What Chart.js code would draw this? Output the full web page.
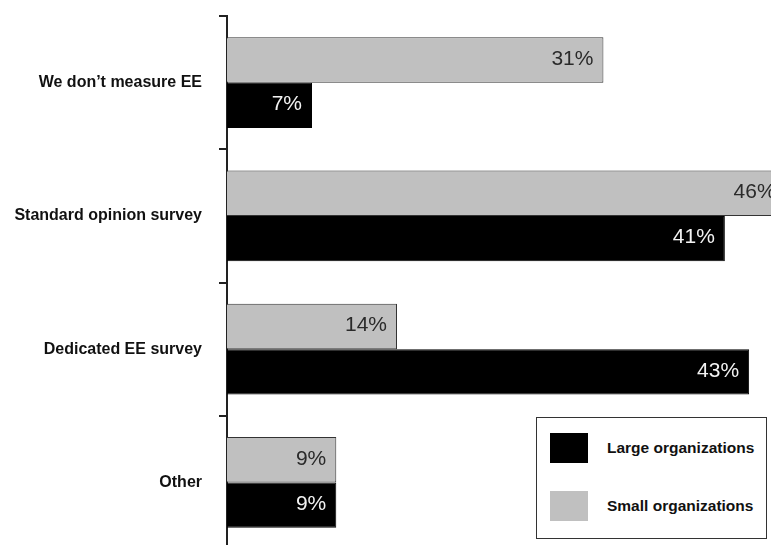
<!DOCTYPE html>
<html>
<head>
<meta charset="utf-8">
<title>Measuring EE</title>
<script src="https://cdn.jsdelivr.net/npm/chart.js@4/dist/chart.umd.min.js"></script>
<style>
  html, body { margin: 0; padding: 0; background: #fff; overflow: hidden; }
  #wrap { position: relative; width: 771px; height: 545px; overflow: hidden; }
  #chart { position: absolute; left: 0; top: 0; }
  #legend {
    position: absolute; left: 536px; top: 417px; width: 231px; height: 122px;
    box-sizing: border-box; border: 1.5px solid #333; background: #fff;
    font-family: "Liberation Sans", Arial, sans-serif; font-weight: bold;
    font-size: 15.5px; color: #111;
  }
  .item { position: absolute; left: 13px; height: 30px; display: flex; align-items: center; }
  .swatch { width: 38px; height: 30px; margin-right: 19px; }
</style>
</head>
<body>
<div id="wrap">
  <canvas id="chart" width="771" height="560"></canvas>
  <div id="legend"></div>
</div>
<script>
// survey answers, share of respondents in %
const categories = ["We don\u2019t measure EE", "Standard opinion survey", "Dedicated EE survey", "Other"];
const smallOrgs = [31, 46, 14, 9];
const largeOrgs = [7, 41, 43, 9];

const seriesNames = ["Small organizations", "Large organizations"];
const seriesColors = ["#c0c0c0", "#000000"];
const labelColors = ["#2a2a2a", "#f2f2f2"];

// writes "NN%" just inside the end of every bar
const barValueLabels = {
  id: "barValueLabels",
  afterDatasetsDraw(chart) {
    const ctx = chart.ctx;
    ctx.save();
    ctx.font = "21px 'Liberation Sans', Arial, sans-serif";
    ctx.textAlign = "right";
    ctx.textBaseline = "middle";
    chart.data.datasets.forEach((ds, i) => {
      const meta = chart.getDatasetMeta(i);
      meta.data.forEach((bar, j) => {
        ctx.fillStyle = labelColors[i];
        ctx.fillText(ds.data[j] + "%", bar.x - 10, bar.y - 1);
      });
    });
    ctx.restore();
  }
};

const chart = new Chart(document.getElementById("chart"), {
  type: "bar",
  data: {
    labels: categories,
    datasets: [
      {
        label: seriesNames[0],
        data: smallOrgs,
        backgroundColor: seriesColors[0],
        borderColor: "#333",
        borderWidth: 1
      },
      {
        label: seriesNames[1],
        data: largeOrgs,
        backgroundColor: seriesColors[1],
        borderColor: "#000",
        borderWidth: 1
      }
    ]
  },
  options: {
    indexAxis: "y",
    responsive: false,
    animation: false,
    layout: { padding: { top: 16, bottom: 11, left: 0, right: 0 } },
    datasets: { bar: { categoryPercentage: 0.68, barPercentage: 1.0 } },
    plugins: {
      legend: { display: false },
      tooltip: { enabled: false }
    },
    scales: {
      x: { display: false, min: 0, max: 44.8 },
      y: {
        afterFit(scale) {
          // fixed gutter for the labels, no extra room above/below the bars
          scale.width = 227;
          scale.paddingTop = 0;
          scale.paddingBottom = 0;
        },
        border: { display: true, color: "#222", width: 2 },
        grid: { drawOnChartArea: false, drawTicks: true, tickLength: 8, color: "#222", lineWidth: 2, offset: true },
        ticks: {
          padding: 17,
          color: "#111",
          font: { family: "'Liberation Sans', Arial, sans-serif", size: 16, weight: "bold" }
        }
      }
    }
  },
  plugins: [barValueLabels]
});

// legend box, large organizations listed first
const legend = document.getElementById("legend");
chart.data.datasets.slice().reverse().forEach((ds, k) => {
  const item = document.createElement("div");
  item.className = "item";
  item.style.top = (15 + k * 58) + "px";
  const sw = document.createElement("span");
  sw.className = "swatch";
  sw.style.background = ds.backgroundColor;
  const txt = document.createElement("span");
  txt.textContent = ds.label;
  item.appendChild(sw);
  item.appendChild(txt);
  legend.appendChild(item);
});
</script>
</body>
</html>
